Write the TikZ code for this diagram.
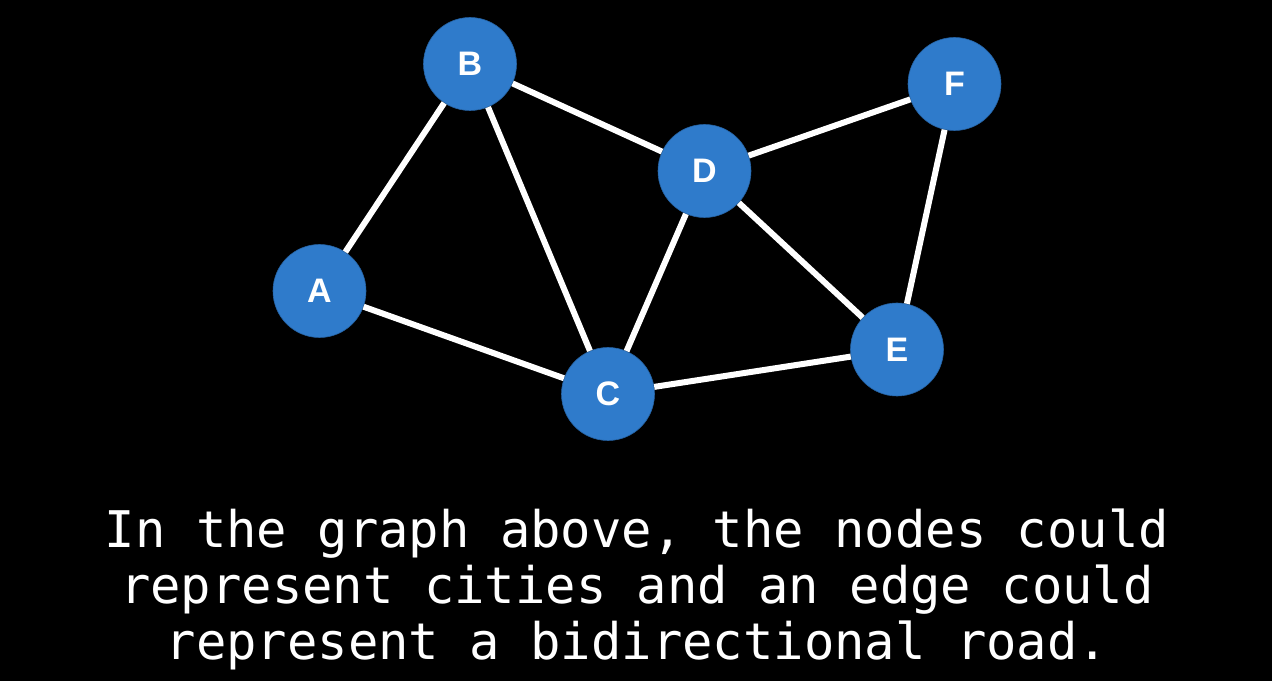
\documentclass[tikz,border=0pt]{standalone}
\usepackage{fontspec}
\setmainfont{Liberation Sans}
\newfontfamily\captionfont{DejaVu Sans Mono}
\usepackage{xcolor}
\definecolor{nodeblue}{HTML}{2F7BCB}
\usetikzlibrary{positioning}

\begin{document}
\begin{tikzpicture}[x=1pt, y=1pt,
    city/.style={circle, fill=nodeblue, draw=nodeblue!80!black, line width=0.6pt, minimum size=93pt, inner sep=0pt, text=white, font=\fontsize{34}{34}\selectfont\bfseries},
    road/.style={draw=white, line width=6pt}]
    \fill[black] (0,0) rectangle (1272,681);
    % the cities
    \node[city] (A) at (319.5,390) {A};
    \node[city] (B) at (470,617) {B};
    \node[city] (C) at (608,287) {C};
    \node[city] (D) at (704.5,510) {D};
    \node[city] (E) at (897,331.5) {E};
    \node[city] (F) at (954.5,597) {F};
    % the roads
    \path[road] (A) -- (B);
    \path[road] (A) -- (C);
    \path[road] (B) -- (C);
    \path[road] (B) -- (D);
    \path[road] (C) -- (D);
    \path[road] (C) -- (E);
    \path[road] (D) -- (E);
    \path[road] (D) -- (F);
    \path[road] (E) -- (F);
    % caption
    \node[text=white, align=center, inner sep=0pt, font=\captionfont\fontsize{50.5}{56}\selectfont] (caption) at (637,92)
        {In the graph above, the nodes could\\represent cities and an edge could\\represent a bidirectional road.};
\end{tikzpicture}
\end{document}
